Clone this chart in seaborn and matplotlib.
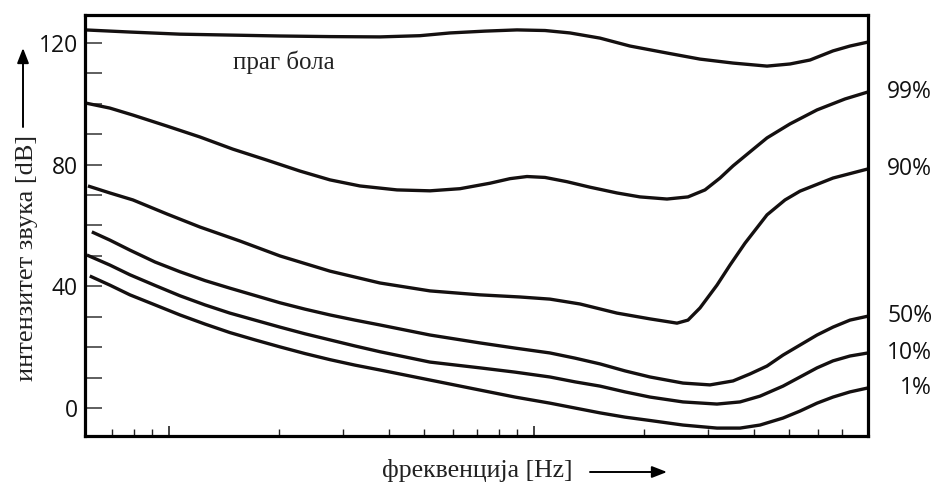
import numpy as np
import pandas as pd
import matplotlib
matplotlib.use("Agg")
import matplotlib.pyplot as plt
import matplotlib.patches as mpatches
import seaborn as sns
from matplotlib.ticker import FixedLocator, NullFormatter

# ---------------- data (frequency in Hz, level in dB) ----------------
pain_f  = [58.9, 78.2, 107.2, 146.9, 201.4, 276.1, 378.6, 487.2, 588.8, 733.9, 898.4,
           1072, 1255, 1517, 1832, 2314, 2850, 3510, 4349, 5028, 5704, 6595, 7340, 8223]
pain_db = [124.3, 123.6, 122.9, 122.6, 122.3, 122.1, 122.0, 122.4, 123.3, 123.9, 124.3,
           124.1, 123.3, 121.6, 119.0, 116.7, 114.7, 113.4, 112.4, 113.1, 114.4, 117.4, 119.0, 120.3]

p99_f  = [58.9, 68.9, 79.7, 98.7, 121.6, 149.7, 185.5, 228.5, 276.1, 333.6, 421.4, 518.9,
          627.1, 757.7, 859.7, 956.8, 1072, 1231, 1423, 1688, 1952, 2314, 2642, 2941,
          3233, 3510, 3906, 4349, 5028, 5962, 7114, 8223]
p99_db = [100.3, 98.6, 96.3, 92.7, 89.1, 85.1, 81.5, 77.9, 75.0, 73.0, 71.7, 71.4,
          72.1, 73.9, 75.4, 76.1, 75.8, 74.4, 72.6, 70.7, 69.4, 68.7, 69.4, 71.7,
          75.6, 79.6, 84.2, 88.8, 93.4, 98.0, 101.6, 103.9]

p90_f  = [60.0, 68.9, 79.7, 98.7, 121.6, 156.5, 201.4, 276.1, 378.6, 518.9, 711.3, 915.4,
          1106, 1337, 1688, 2079, 2465, 2642, 2850, 3172, 3444, 3786, 4349, 4872, 5356,
          6595, 8223]
p90_db = [73.0, 70.7, 68.4, 63.8, 59.5, 54.9, 50.0, 45.0, 41.1, 38.5, 37.2, 36.5,
          35.8, 34.2, 31.2, 29.3, 27.9, 28.9, 32.9, 40.4, 47.0, 54.2, 63.5, 68.4, 71.3,
          75.6, 78.6]

p50_f  = [61.5, 68.9, 78.2, 91.6, 107.2, 125.5, 146.9, 172.0, 201.4, 235.9, 276.1, 323.3,
          378.6, 518.9, 711.3, 887.2, 1106, 1295, 1517, 1776, 2079, 2560, 3035, 3510,
          3906, 4349, 4811, 5356, 5962, 6595, 7340, 8223]
p50_db = [57.9, 55.2, 51.9, 48.0, 44.8, 41.9, 39.4, 37.0, 34.6, 32.5, 30.6, 28.9,
          27.3, 24.0, 21.4, 19.7, 18.1, 16.4, 14.5, 12.2, 10.2, 8.2, 7.6, 8.9,
          11.2, 13.8, 17.4, 20.7, 24.0, 26.6, 28.9, 30.2]

p10_f  = [59.6, 68.9, 78.2, 91.6, 107.2, 125.5, 146.9, 172.0, 201.4, 235.9, 276.1, 323.3,
          378.6, 518.9, 711.3, 887.2, 1106, 1295, 1517, 1776, 2079, 2560, 3172, 3668,
          4161, 4811, 5356, 5962, 6595, 7340, 8223]
p10_db = [50.3, 47.0, 43.8, 40.3, 36.9, 33.9, 31.2, 28.9, 26.6, 24.4, 22.4, 20.4,
          18.5, 15.1, 13.2, 11.8, 10.2, 8.6, 7.2, 5.3, 3.6, 2.0, 1.3, 2.0,
          3.9, 7.2, 10.2, 13.2, 15.5, 17.1, 18.1]

p1_f  = [60.7, 68.9, 78.2, 91.6, 107.2, 125.5, 146.9, 172.0, 201.4, 235.9, 276.1, 323.3,
         378.6, 518.9, 711.3, 887.2, 1106, 1295, 1517, 1776, 2079, 2560, 3172, 3668,
         4161, 4811, 5356, 5962, 6595, 7340, 8223]
p1_db = [43.4, 40.4, 37.2, 33.9, 30.6, 27.6, 24.8, 22.4, 20.1, 17.9, 15.9, 14.1,
         12.5, 9.2, 5.9, 3.6, 1.6, 0.0, -1.6, -3.0, -4.1, -5.6, -6.6, -6.6,
         -5.6, -3.3, -1.0, 1.6, 3.6, 5.3, 6.6]

curve_labels = ["праг бола", "99%", "90%", "50%", "10%", "1%"]

y_major = [0, 40, 80, 120]
y_minor = [10, 20, 30, 50, 60, 70, 90, 100, 110]
x_major = [100, 1000]
x_minor = [70, 80, 90, 200, 300, 400, 500, 600, 700, 800, 900,
           2000, 3000, 4000, 5000, 6000, 7000]

y_title = "интензитет звука [dB]"
x_title = "фреквенција [Hz]"

# ---------------- figure ----------------
sns.set_theme(style="white")
plt.rcParams["font.family"] = ["Open Sans", "DejaVu Sans"]
SERIF = ["Liberation Serif", "DejaVu Serif"]

W, H = 935, 484
fig = plt.figure(figsize=(W / 100, H / 100), dpi=100)
ax = fig.add_axes([85 / W, 1 - 436 / H, (868 - 85) / W, (436 - 15) / H])

series = [(pain_f, pain_db), (p99_f, p99_db), (p90_f, p90_db),
          (p50_f, p50_db), (p10_f, p10_db), (p1_f, p1_db)]
frames = []
for name, (f, d) in zip(curve_labels, series):
    frames.append(pd.DataFrame({"f": f, "db": d, "curve": name}))
df = pd.concat(frames, ignore_index=True)

line_color = "#141010"
for name in curve_labels:
    sub = df[df["curve"] == name]
    sns.lineplot(data=sub, x="f", y="db", ax=ax, color=line_color, lw=2.4,
                 sort=False, estimator=None, legend=False,
                 solid_joinstyle="round", solid_capstyle="butt")

ax.set_xscale("log")
ax.set_xlim(58.9, 8223)
ax.set_ylim(-9.2, 129.2)
ax.set_xlabel("")
ax.set_ylabel("")

ax.xaxis.set_major_locator(FixedLocator(x_major))
ax.xaxis.set_minor_locator(FixedLocator(x_minor))
ax.xaxis.set_major_formatter(NullFormatter())
ax.xaxis.set_minor_formatter(NullFormatter())
ax.yaxis.set_major_locator(FixedLocator(y_major))
ax.yaxis.set_minor_locator(FixedLocator(y_minor))
ax.set_yticklabels([str(v) for v in y_major])

ax.tick_params(axis="x", which="major", direction="in", length=7, width=1.2,
               color="#222222", bottom=True)
ax.tick_params(axis="x", which="minor", direction="in", length=5, width=1.0,
               color="#222222", bottom=True)
ax.tick_params(axis="y", which="both", direction="in", length=12, width=1.1,
               color="#333333", left=True, pad=5, labelsize=16.5, labelcolor="#111111")

for s in ax.spines.values():
    s.set_visible(True)
    s.set_color("black")
    s.set_linewidth(2.3)
ax.set_facecolor("white")

# curve labels on the right, at the level where each curve ends
for name, (f, d) in zip(curve_labels[1:], series[1:]):
    ax.text(1.082, d[-1], name, transform=ax.get_yaxis_transform(),
            ha="right", va="center", fontsize=16.5, color="#111111", clip_on=False)

# pain threshold label
ax.text(206, 113.7, curve_labels[0], ha="center", va="center",
        fontsize=18, family=SERIF, color="#222222")

# axis titles with arrows
fig.text(27 / W, 1 - 258 / H, y_title, rotation=90, ha="center", va="center",
         fontsize=19, family=SERIF, color="#222222")
fig.add_artist(mpatches.FancyArrowPatch(
    (23 / W, 1 - 127 / H), (23 / W, 1 - 48 / H), transform=fig.transFigure,
    arrowstyle="-|>,head_length=9,head_width=3.5", lw=1.4, color="black",
    shrinkA=0, shrinkB=0))

fig.text(477 / W, 1 - 471 / H, x_title, ha="center", va="center",
         fontsize=18.5, family=SERIF, color="#222222")
fig.add_artist(mpatches.FancyArrowPatch(
    (590 / W, 1 - 472 / H), (667 / W, 1 - 472 / H), transform=fig.transFigure,
    arrowstyle="-|>,head_length=9,head_width=3.5", lw=1.4, color="black",
    shrinkA=0, shrinkB=0))

fig.savefig("out.png", dpi=100, facecolor="white")
